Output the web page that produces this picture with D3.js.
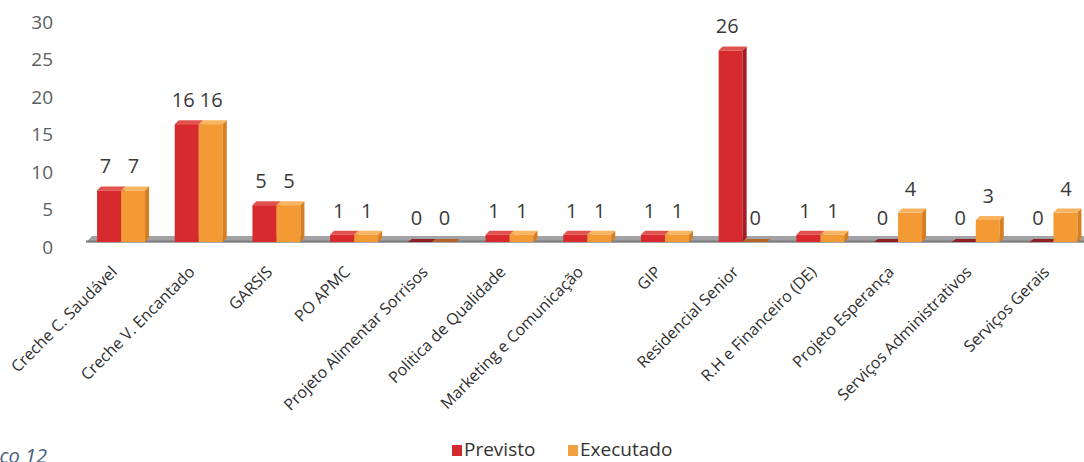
<!DOCTYPE html>
<html>
<head>
<meta charset="utf-8">
<script src="https://cdn.jsdelivr.net/npm/d3@7"></script>
<style>
  html, body { margin: 0; padding: 0; background: #ffffff; }
  svg { display: block; }
</style>
</head>
<body>
<svg id="chart" width="1084" height="462"></svg>
<script>
// Planned vs. executed actions per area
const categories = [
  "Creche  C. Saudável", "Creche V. Encantado", "GARSIS", "PO APMC",
  "Projeto Alimentar Sorrisos", "Politica de Qualidade", "Marketing e Comunicação",
  "GIP", "Residencial Senior", "R.H e Financeiro (DE)", "Projeto Esperança",
  "Serviços Administrativos", "Serviços Gerais"
];
const previsto  = [7, 16, 5, 1, 0, 1, 1, 1, 26, 1, 0, 0, 0];
const executado = [7, 16, 5, 1, 0, 1, 1, 1, 0, 1, 4, 3, 4];
const seriesNames = ["Previsto", "Executado"];
const yTicks = [0, 5, 10, 15, 20, 25, 30];

const palette = {
  Previsto:  { front: "#d62a2e", top: "#e2524e", side: "#a51d22", flat: "#8e1f24" },
  Executado: { front: "#f39a34", top: "#f8b460", side: "#d57f22", flat: "#b8632a" }
};

const svg = d3.select("#chart");
const depth = 4;
const font = "'Open Sans', sans-serif";

const x0 = d3.scaleBand().domain(categories).range([83.2, 1093.3]).padding(0);
const x1 = d3.scaleBand().domain(seriesNames)
  .range([x0.bandwidth() / 2 - 25, x0.bandwidth() / 2 + 23]).padding(0);
const y = d3.scaleLinear().domain([0, 30]).range([242, 21]);
const yAxisScale = d3.scaleLinear().domain([0, 30]).range([247, 22]);

// value axis (labels only)
const yAxis = d3.axisLeft(yAxisScale).tickValues(yTicks).tickSize(0).tickPadding(0);
svg.append("g")
  .attr("transform", "translate(53,0)")
  .call(yAxis)
  .call(g => g.select(".domain").remove())
  .selectAll("text")
  .attr("font-family", font)
  .attr("font-size", 19)
  .attr("fill", "#5a5f63");

// floor strip
const fx0 = 86, fx1 = 1096;
svg.append("polygon")
  .attr("points", [[fx0, 242.5], [fx1, 242.5], [fx1 + 6, 236], [fx0 + 6, 236]].map(p => p.join(",")).join(" "))
  .attr("fill", "#a2a2a4");
svg.append("line")
  .attr("x1", fx0).attr("x2", fx1).attr("y1", 241.5).attr("y2", 241.5)
  .attr("stroke", "#7d7d80").attr("stroke-width", 2);

const rows = categories.map((c, i) => ({ cat: c, values: [previsto[i], executado[i]] }));

// data labels (drawn beneath bars)
const labelShift = { Previsto: -3.5, Executado: 0.5 };
const labelLayer = svg.append("g");
rows.forEach(r => {
  seriesNames.forEach((s, j) => {
    const v = r.values[j];
    const bx = x0(r.cat) + x1(s);
    labelLayer.append("text")
      .attr("x", bx + x1.bandwidth() / 2 + labelShift[s])
      .attr("y", y(v) - 17)
      .attr("text-anchor", "middle")
      .attr("font-family", font)
      .attr("font-size", 20)
      .attr("fill", "#3a3a3a")
      .text(v);
  });
});

// 3D bars
const barLayer = svg.append("g");
const order = [];
rows.forEach(r => seriesNames.forEach((s, j) => order.push({ cat: r.cat, s, v: r.values[j] })));
order.forEach(d => {
  const bx = x0(d.cat) + x1(d.s);
  const w = x1.bandwidth();
  const yt = y(d.v), yb = y(0);
  const col = palette[d.s];
  const g = barLayer.append("g");
  if (d.v === 0) {
    g.append("polygon")
      .attr("points", [[bx, yb], [bx + w, yb], [bx + w + depth, yb - depth + 1], [bx + depth, yb - depth + 1]].map(p => p.join(",")).join(" "))
      .attr("fill", col.flat);
    return;
  }
  g.append("rect").attr("x", bx).attr("y", yt).attr("width", w).attr("height", yb - yt).attr("fill", col.front);
  g.append("polygon")
    .attr("points", [[bx, yt], [bx + depth, yt - depth], [bx + w + depth, yt - depth], [bx + w, yt]].map(p => p.join(",")).join(" "))
    .attr("fill", col.top);
  g.append("polygon")
    .attr("points", [[bx + w, yt], [bx + w + depth, yt - depth], [bx + w + depth, yb - depth], [bx + w, yb]].map(p => p.join(",")).join(" "))
    .attr("fill", col.side);
});

// category labels
svg.append("g").selectAll("text")
  .data(categories)
  .join("text")
  .attr("transform", d => `translate(${x0(d) + x0.bandwidth() / 2 - 4},273) rotate(-45)`)
  .attr("text-anchor", "end")
  .attr("font-family", font)
  .attr("font-size", 16)
  .attr("fill", "#2e2e2e")
  .text(d => d);

// legend
const legend = svg.append("g");
const legendItems = [
  { name: "Previsto", x: 452, color: "#d12b30" },
  { name: "Executado", x: 568, color: "#f0a040" }
];
legendItems.forEach(it => {
  legend.append("rect").attr("x", it.x).attr("y", 445).attr("width", 10).attr("height", 11).attr("fill", it.color);
  legend.append("text")
    .attr("x", it.x + 12).attr("y", 456)
    .attr("font-family", font)
    .attr("font-size", 19)
    .attr("fill", "#333333")
    .text(it.name);
});

// figure caption
svg.append("text")
  .attr("x", 47).attr("y", 463)
  .attr("text-anchor", "end")
  .attr("font-family", font)
  .attr("font-style", "italic")
  .attr("font-size", 20)
  .attr("fill", "#44617f")
  .text("Gráfico 12");
</script>
</body>
</html>
